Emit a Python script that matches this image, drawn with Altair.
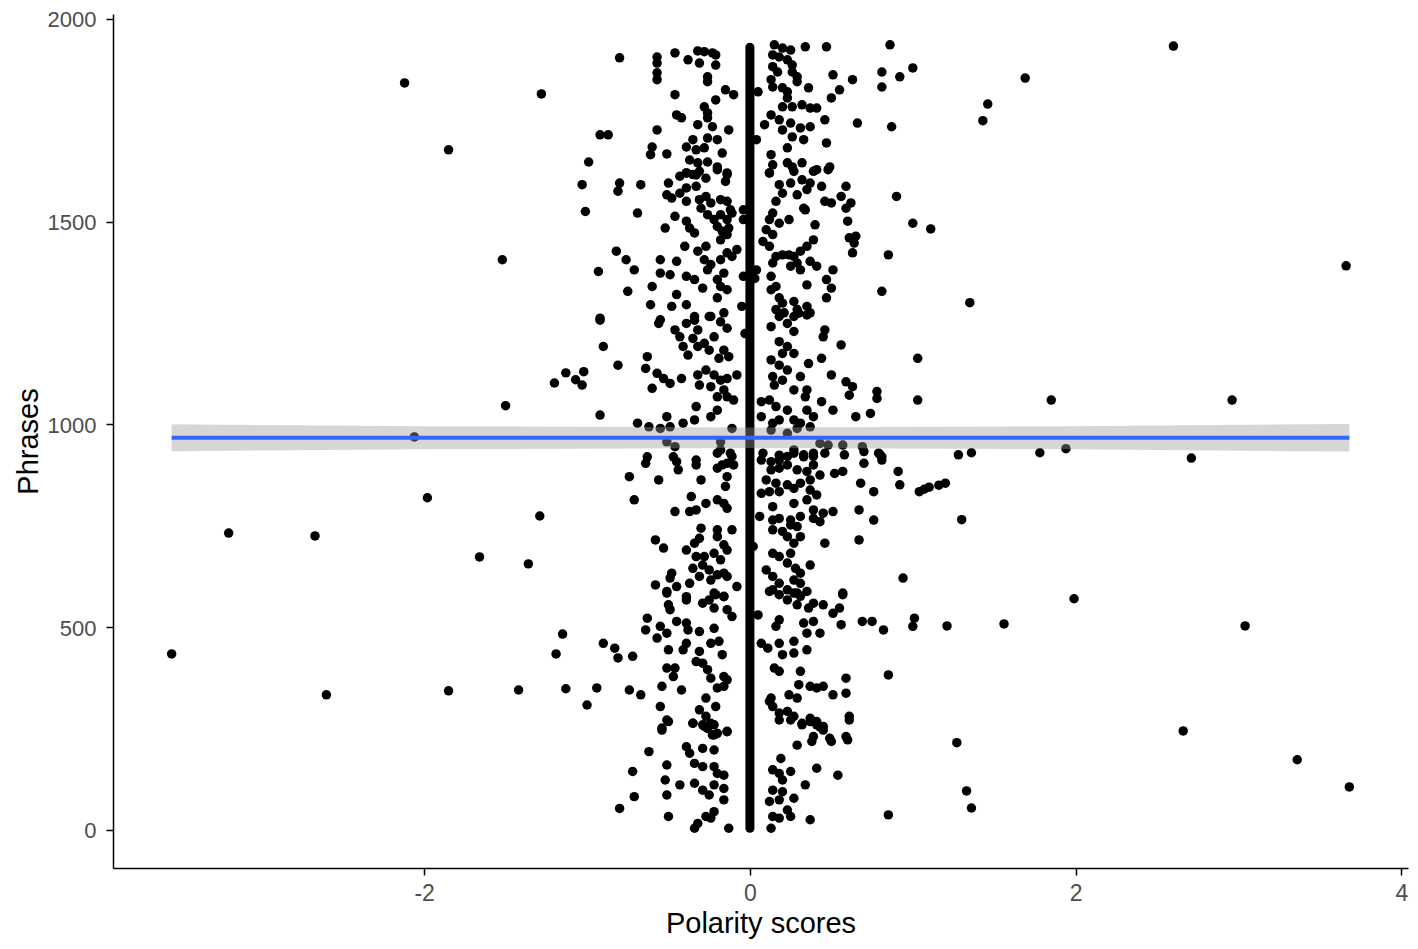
import altair as alt
import pandas as pd

# ---- data (polarity score, phrase index) ----
outliers = [
    (-2.12, 1842), (-1.28, 1815), (-1.85, 1677), (-1.52, 1406), (-1.50, 1046),
    (-2.06, 969), (-1.98, 819), (-3.20, 732), (-2.67, 725), (-1.66, 673),
    (-1.36, 656), (-1.29, 774), (-3.55, 434), (-2.60, 333), (-1.85, 343),
    (-1.42, 345), (-1.19, 434), (-1.15, 483), (-1.13, 348), (-1.20, 1102),
    (-1.13, 1127), (-1.07, 1110),
    (2.60, 1933), (1.69, 1854), (1.46, 1790), (1.43, 1749), (3.66, 1391),
    (1.35, 1300), (1.85, 1060), (2.96, 1060), (1.78, 930), (1.94, 940),
    (2.71, 917), (1.36, 930), (1.28, 925), (1.11, 1482), (1.30, 765),
    (1.20, 855), (1.16, 850), (1.10, 845), (1.07, 840), (1.21, 503),
    (1.56, 508), (1.99, 570), (3.04, 503), (2.66, 244), (3.36, 173),
    (3.68, 106), (1.27, 215), (1.33, 96), (1.36, 54),
]

top_left = [
    (-0.80, 1904), (-0.57, 1906), (-0.57, 1891), (-0.57, 1867), (-0.57, 1850),
    (-0.46, 1916), (-0.38, 1899), (-0.32, 1921), (-0.28, 1919), (-0.23, 1916),
    (-0.21, 1911), (-0.31, 1891), (-0.21, 1886), (-0.26, 1857), (-0.26, 1845),
    (-0.46, 1813), (-0.15, 1825), (-0.10, 1813), (-0.21, 1800), (-0.28, 1783),
    (-0.26, 1768), (-0.45, 1763), (-0.42, 1756), (-0.32, 1739), (-0.26, 1756),
    (-0.23, 1734), (-0.13, 1726), (-0.57, 1726), (-0.92, 1714), (-0.87, 1714),
    (-0.35, 1702), (-0.26, 1706), (-0.20, 1702), (-0.39, 1684), (-0.33, 1677),
    (-0.28, 1682), (-0.60, 1684), (-0.61, 1665), (-0.51, 1667), (-0.17, 1669),
    (-0.99, 1647), (-0.37, 1652), (-0.32, 1645), (-0.26, 1647), (-0.20, 1635),
    (-0.14, 1620), (-0.39, 1620), (-0.33, 1615),
]
top_right = [
    (0.15, 1936), (0.20, 1928), (0.25, 1923), (0.34, 1931), (0.47, 1931),
    (0.86, 1936), (0.14, 1911), (0.18, 1906), (0.23, 1899), (0.26, 1886),
    (0.14, 1882), (0.17, 1869), (0.13, 1850), (0.14, 1832), (0.26, 1869),
    (0.29, 1857), (0.29, 1845), (0.05, 1820), (0.20, 1830), (0.23, 1820),
    (0.23, 1805), (0.36, 1830), (0.51, 1862), (0.63, 1850), (0.55, 1825),
    (0.50, 1805), (0.81, 1869), (0.81, 1832), (0.92, 1857), (1.00, 1879),
    (0.20, 1783), (0.26, 1783), (0.32, 1788), (0.37, 1780), (0.41, 1780),
    (0.13, 1763), (0.09, 1739), (0.18, 1751), (0.25, 1743), (0.20, 1726),
    (0.31, 1731), (0.37, 1734), (0.46, 1751), (0.66, 1743), (0.87, 1734),
    (0.26, 1709), (0.33, 1702), (0.47, 1694), (0.04, 1702), (0.23, 1682),
    (0.13, 1665), (0.14, 1640), (0.12, 1620), (0.23, 1645), (0.26, 1635),
    (0.32, 1645), (0.41, 1628), (0.49, 1635),
]

upper_left = [
    (-1.03, 1591), (-0.80, 1595), (-0.81, 1575), (-0.67, 1591), (-0.50, 1595),
    (-0.43, 1612), (-0.39, 1620), (-0.35, 1616), (-0.31, 1624), (-0.27, 1607),
    (-0.20, 1628), (-0.14, 1616), (-0.15, 1599), (-0.51, 1566), (-0.48, 1558),
    (-0.43, 1570), (-0.39, 1583), (-0.33, 1587), (-1.01, 1525), (-0.69, 1521),
    (-0.39, 1550), (-0.31, 1554), (-0.27, 1562), (-0.24, 1546), (-0.18, 1554),
    (-0.14, 1550), (-0.12, 1529), (-0.30, 1533), (-0.26, 1517), (-0.22, 1505),
    (-0.18, 1517), (-0.14, 1505), (-0.11, 1521), (-0.46, 1513), (-0.39, 1501),
    (-0.37, 1484), (-0.34, 1472), (-0.52, 1484), (-0.20, 1488), (-0.17, 1476),
    (-0.13, 1484), (-0.18, 1455), (-0.14, 1468), (-0.82, 1427), (-0.76, 1406),
    (-0.71, 1381), (-0.93, 1377), (-0.55, 1406), (-0.45, 1402), (-0.55, 1373),
    (-0.49, 1369), (-0.60, 1340), (-0.75, 1328), (-0.61, 1295), (-0.45, 1320),
    (-0.48, 1291), (-0.39, 1295), (-0.40, 1439), (-0.32, 1427), (-0.27, 1439),
    (-0.28, 1406), (-0.24, 1394), (-0.26, 1381), (-0.18, 1406), (-0.14, 1423),
    (-0.11, 1414), (-0.08, 1431), (-0.39, 1365), (-0.34, 1357), (-0.29, 1336),
    (-0.20, 1357), (-0.16, 1373), (-0.18, 1340), (-0.14, 1332), (-0.20, 1312),
    (-0.16, 1275), (-0.24, 1266), (-0.34, 1266), (-0.55, 1258), (-0.92, 1262),
    (-0.05, 1291), (-0.04, 1365), (-0.04, 1529), (-0.04, 1505),
]
upper_right = [
    (0.12, 1620), (0.27, 1624), (0.39, 1624), (0.48, 1628), (0.18, 1591),
    (0.25, 1595), (0.32, 1603), (0.37, 1595), (0.35, 1579), (0.29, 1566),
    (0.20, 1570), (0.44, 1587), (0.59, 1587), (0.56, 1562), (0.62, 1546),
    (0.59, 1533), (0.50, 1546), (0.46, 1550), (0.33, 1533), (0.34, 1529),
    (0.90, 1562), (1.00, 1496), (0.16, 1550), (0.14, 1521), (0.12, 1505),
    (0.10, 1480), (0.14, 1468), (0.18, 1496), (0.24, 1505), (0.40, 1492),
    (0.39, 1455), (0.35, 1439), (0.31, 1427), (0.27, 1414), (0.24, 1418),
    (0.60, 1501), (0.61, 1460), (0.65, 1464), (0.64, 1447), (0.63, 1423),
    (0.08, 1451), (0.12, 1439), (0.16, 1414), (0.20, 1418), (0.14, 1398),
    (0.25, 1390), (0.29, 1398), (0.37, 1402), (0.41, 1390), (0.31, 1381),
    (0.51, 1381), (0.47, 1357), (0.50, 1336), (0.47, 1312), (0.35, 1344),
    (0.85, 1418), (0.81, 1328), (0.13, 1365), (0.16, 1340), (0.13, 1332),
    (0.18, 1312), (0.20, 1299), (0.27, 1303), (0.16, 1283), (0.21, 1275),
    (0.29, 1283), (0.35, 1291), (0.37, 1275), (0.27, 1266), (0.04, 1381),
    (0.03, 1360),
]

middle_left = [
    (-0.92, 1257), (-0.90, 1192), (-1.02, 1130), (-1.03, 1097), (-0.81, 1146),
    (-0.92, 1023), (-0.56, 1249), (-0.46, 1233), (-0.43, 1216), (-0.39, 1249),
    (-0.34, 1257), (-0.32, 1233), (-0.35, 1212), (-0.25, 1266), (-0.18, 1253),
    (-0.14, 1237), (-0.22, 1216), (-0.28, 1200), (-0.25, 1183), (-0.32, 1192),
    (-0.41, 1192), (-0.38, 1171), (-0.16, 1183), (-0.13, 1167), (-0.19, 1163),
    (-0.63, 1167), (-0.64, 1138), (-0.57, 1126), (-0.53, 1113), (-0.49, 1101),
    (-0.60, 1089), (-0.42, 1113), (-0.32, 1122), (-0.27, 1134), (-0.22, 1122),
    (-0.18, 1109), (-0.14, 1113), (-0.31, 1097), (-0.24, 1093), (-0.16, 1085),
    (-0.14, 1068), (-0.20, 1068), (-0.10, 1060), (-0.33, 1044), (-0.20, 1035),
    (-0.24, 1019), (-0.34, 1011), (-0.41, 1003), (-0.51, 1019), (-0.69, 1003),
    (-0.62, 994), (-0.55, 990), (-0.49, 994), (-0.08, 1122), (-0.11, 990),
    (-0.51, 957), (-0.46, 945), (-0.18, 957), (-0.18, 937), (-0.12, 929),
    (-0.63, 920), (-0.47, 920), (-0.03, 1224),
]
middle_right = [
    (0.13, 1241), (0.18, 1266), (0.23, 1249), (0.27, 1229), (0.30, 1274),
    (0.35, 1270), (0.18, 1204), (0.23, 1192), (0.20, 1175), (0.27, 1175),
    (0.13, 1159), (0.18, 1146), (0.23, 1134), (0.36, 1150), (0.44, 1163),
    (0.46, 1233), (0.45, 1216), (0.56, 1196), (0.14, 1118), (0.15, 1097),
    (0.20, 1109), (0.31, 1118), (0.27, 1085), (0.35, 1085), (0.34, 1068),
    (0.50, 1122), (0.59, 1105), (0.63, 1093), (0.61, 1072), (0.78, 1081),
    (0.78, 1064), (0.44, 1056), (0.51, 1035), (0.65, 1019), (0.74, 1027),
    (0.07, 1056), (0.12, 1060), (0.16, 1044), (0.23, 1035), (0.27, 1011),
    (0.07, 1019), (0.14, 1003), (0.18, 1011), (0.35, 1035), (0.39, 1019),
    (0.31, 1003), (0.37, 994), (0.13, 986), (0.23, 978), (0.29, 990),
    (0.43, 953), (0.48, 949), (0.57, 949), (0.69, 945), (0.79, 929),
    (0.81, 920), (0.08, 929), (0.18, 924), (0.27, 937), (0.33, 920),
    (0.39, 929), (1.03, 1163), (1.03, 1060),
]

lower_left = [
    (-0.64, 904), (-0.74, 871), (-0.71, 814), (-0.56, 863), (-0.45, 908),
    (-0.44, 888), (-0.33, 912), (-0.33, 900), (-0.30, 863), (-0.20, 929),
    (-0.20, 892), (-0.17, 900), (-0.14, 904), (-0.10, 900), (-0.14, 871),
    (-0.11, 921), (-0.36, 822), (-0.27, 805), (-0.20, 814), (-0.16, 805),
    (-0.14, 793), (-0.15, 847), (-0.37, 785), (-0.33, 789), (-0.46, 785),
    (-0.30, 744), (-0.20, 740), (-0.11, 740), (-0.58, 715), (-0.53, 695),
    (-0.39, 690), (-0.34, 707), (-0.31, 719), (-0.20, 723), (-0.16, 703),
    (-0.14, 690), (-0.33, 674), (-0.28, 674), (-0.22, 682), (-0.18, 666),
    (-0.35, 645), (-0.29, 653), (-0.25, 641), (-0.20, 629), (-0.16, 633),
    (-0.14, 625), (-0.48, 633), (-0.49, 621), (-0.58, 604), (-0.51, 588),
    (-0.45, 600), (-0.37, 608), (-0.31, 625), (-0.24, 616), (-0.08, 600),
    (-0.22, 584), (-0.16, 575), (-0.39, 575),
]
lower_right = [
    (0.07, 912), (0.13, 908), (0.18, 912), (0.23, 921), (0.27, 929),
    (0.33, 925), (0.39, 921), (0.46, 929), (0.58, 925), (0.70, 933),
    (0.80, 925), (0.81, 912), (0.13, 888), (0.18, 892), (0.23, 900),
    (0.29, 888), (0.35, 884), (0.39, 900), (0.43, 875), (0.52, 879),
    (0.57, 884), (0.70, 904), (0.91, 884), (0.92, 851), (1.04, 834),
    (0.10, 863), (0.16, 855), (0.23, 851), (0.31, 855), (0.37, 863),
    (0.12, 834), (0.18, 834), (0.27, 842), (0.37, 838), (0.41, 826),
    (0.07, 830), (0.68, 855), (0.76, 834), (0.14, 797), (0.27, 805),
    (0.35, 814), (0.39, 789), (0.45, 781), (0.51, 785), (0.67, 789),
    (0.06, 773), (0.14, 764), (0.18, 768), (0.25, 764), (0.31, 773),
    (0.39, 768), (0.43, 760), (0.76, 764), (0.14, 740), (0.20, 736),
    (0.25, 752), (0.29, 748), (0.23, 723), (0.31, 723), (0.27, 707),
    (0.46, 707), (0.67, 715), (0.02, 699), (0.14, 682), (0.18, 674),
    (0.25, 682), (0.23, 658), (0.28, 645), (0.31, 633), (0.10, 641),
    (0.14, 625), (0.18, 608), (0.27, 616), (0.31, 608), (0.14, 592),
    (0.23, 592), (0.29, 584), (0.37, 653), (0.57, 584), (0.94, 621),
]

bottom_left = [
    (-0.51, 584), (-0.50, 555), (-0.49, 543), (-0.39, 567), (-0.29, 559),
    (-0.25, 567), (-0.21, 580), (-0.16, 576), (-0.22, 547), (-0.14, 543),
    (-0.11, 526), (-0.63, 522), (-0.64, 493), (-0.55, 502), (-0.51, 485),
    (-0.57, 473), (-0.45, 514), (-0.39, 510), (-0.38, 493), (-0.31, 489),
    (-0.22, 497), (-0.90, 460), (-0.83, 448), (-0.81, 424), (-0.72, 428),
    (-0.50, 444), (-0.41, 444), (-0.39, 460), (-0.31, 440), (-0.24, 460),
    (-0.19, 465), (-0.17, 432), (-0.51, 399), (-0.46, 399), (-0.47, 378),
    (-0.33, 415), (-0.29, 411), (-0.26, 395), (-0.24, 374), (-0.16, 378),
    (-0.14, 370), (-0.20, 350), (-0.16, 354), (-0.94, 350), (-1.00, 308),
    (-0.74, 345), (-0.67, 333), (-0.54, 354), (-0.42, 345), (-0.55, 304),
    (-0.27, 325), (-0.31, 296), (-0.21, 304), (-0.27, 280), (-0.35, 263),
    (-0.51, 271), (-0.54, 251), (-0.22, 259), (-0.14, 243), (-0.22, 234),
    (-0.28, 255),
    (-0.54, 246), (-0.50, 267), (-0.35, 263), (-0.29, 259), (-0.26, 250),
    (-0.24, 263), (-0.23, 234), (-0.20, 238), (-0.14, 242), (-0.62, 193),
    (-0.39, 205), (-0.37, 189), (-0.29, 201), (-0.22, 197), (-0.34, 164),
    (-0.29, 156), (-0.22, 156), (-0.20, 139), (-0.16, 135), (-0.72, 144),
    (-0.51, 160), (-0.52, 123), (-0.43, 111), (-0.34, 115), (-0.29, 98),
    (-0.25, 86), (-0.22, 111), (-0.16, 102), (-0.71, 82), (-0.51, 86),
    (-0.16, 74), (-0.80, 53), (-0.50, 33), (-0.27, 33), (-0.22, 45),
    (-0.32, 16), (-0.34, 4), (-0.13, 4), (-0.24, 29),
]
bottom_right = [
    (0.12, 588), (0.18, 580), (0.23, 567), (0.27, 584), (0.31, 576),
    (0.29, 555), (0.35, 588), (0.39, 559), (0.45, 555), (0.51, 534),
    (0.57, 580), (0.55, 547), (0.36, 547), (0.05, 530), (0.18, 518),
    (0.16, 502), (0.33, 510), (0.39, 514), (0.35, 485), (0.43, 485),
    (0.56, 506), (0.69, 514), (0.75, 514), (0.82, 493), (0.85, 382),
    (1.01, 522), (1.00, 502), (0.07, 460), (0.11, 448), (0.18, 460),
    (0.27, 465), (0.20, 432), (0.27, 436), (0.35, 444), (0.15, 399),
    (0.18, 391), (0.31, 391), (0.59, 374), (0.30, 358), (0.37, 354),
    (0.41, 350), (0.45, 354), (0.51, 333), (0.59, 337), (0.24, 333),
    (0.29, 325), (0.13, 325), (0.14, 304), (0.18, 288), (0.23, 292),
    (0.27, 280), (0.32, 263), (0.37, 275), (0.41, 267), (0.45, 255),
    (0.61, 280), (0.12, 317), (0.39, 230), (0.49, 226), (0.59, 230),
    (0.18, 271), (0.25, 271), (0.32, 259), (0.37, 267), (0.41, 259),
    (0.45, 246), (0.43, 254), (0.29, 209), (0.38, 218), (0.50, 218),
    (0.60, 222), (0.61, 271), (0.19, 176), (0.14, 148), (0.18, 139),
    (0.25, 144), (0.20, 123), (0.41, 152), (0.54, 135), (0.34, 111),
    (0.14, 98), (0.20, 94), (0.27, 78), (0.12, 70), (0.18, 74),
    (0.23, 49), (0.25, 33), (0.14, 33), (0.18, 29), (0.13, 4),
    (0.37, 25), (0.85, 37),
]

# run of phrases with a score of exactly zero (drawn as a solid column)
zero_x = [0, 0]
zero_y = [4, 1930]

# fitted linear trend and its confidence band
fit_x = [-3.55, 3.68]
fit_y = [967, 967]
band_x = [-3.55, -1.8, 0.0, 1.8, 3.68]
band_lo = [934, 939, 942, 939, 933]
band_hi = [1000, 995, 992, 995, 1001]

# ---- build tables ----
points = (outliers + top_left + top_right + upper_left + upper_right +
          middle_left + middle_right + lower_left + lower_right +
          bottom_left + bottom_right)
df_pts = pd.DataFrame(points, columns=["polarity", "phrase"])
df_zero = pd.DataFrame({"polarity": zero_x, "phrase": zero_y})
df_fit = pd.DataFrame({"polarity": fit_x, "phrase": fit_y})
df_band = pd.DataFrame({"polarity": band_x, "lo": band_lo, "hi": band_hi})

FONT = "Liberation Sans"
xscale = alt.Scale(domain=[-3.91, 4.04], nice=False, zero=False)
yscale = alt.Scale(domain=[-94, 2012], nice=False, zero=False)

xaxis = alt.Axis(values=[-2, 0, 2, 4], title="Polarity scores", grid=False,
                 labelExpr="'' + datum.value", titlePadding=4)
yaxis = alt.Axis(values=[0, 500, 1000, 1500, 2000], title="Phrases", grid=False,
                 labelExpr="'' + datum.value", labelPadding=10, titlePadding=4,
                 labelFontSize=22, labelOffset=1)

pts = alt.Chart(df_pts).mark_circle(size=90, color="black", opacity=1).encode(
    x=alt.X("polarity:Q", scale=xscale, axis=xaxis),
    y=alt.Y("phrase:Q", scale=yscale, axis=yaxis),
)

zero = alt.Chart(df_zero).mark_line(color="black", strokeWidth=9, strokeCap="round").encode(
    x=alt.X("polarity:Q", scale=xscale),
    y=alt.Y("phrase:Q", scale=yscale),
)

band = alt.Chart(df_band).mark_area(color="#999999", opacity=0.4).encode(
    x=alt.X("polarity:Q", scale=xscale),
    y=alt.Y("lo:Q", scale=yscale),
    y2="hi:Q",
)

fit = alt.Chart(df_fit).mark_line(color="#3366FF", strokeWidth=4).encode(
    x=alt.X("polarity:Q", scale=xscale),
    y=alt.Y("phrase:Q", scale=yscale),
)

chart = alt.layer(pts, zero, band, fit).properties(
    width=1295,
    height=854,
    autosize=alt.AutoSizeParams(type="none"),
    padding={"left": 105, "top": 6, "right": 2, "bottom": 73},
).configure_view(stroke=None).configure_axis(
    domainColor="black",
    domainWidth=1.5,
    tickColor="black",
    tickWidth=1.5,
    tickSize=7,
    labelFont=FONT,
    labelFontSize=23,
    labelColor="#4D4D4D",
    labelPadding=7,
    titleFont=FONT,
    titleFontSize=29,
    titleFontWeight="normal",
    titleColor="black",
)

chart.save("out.html", embed_options={"renderer": "svg", "actions": False})
